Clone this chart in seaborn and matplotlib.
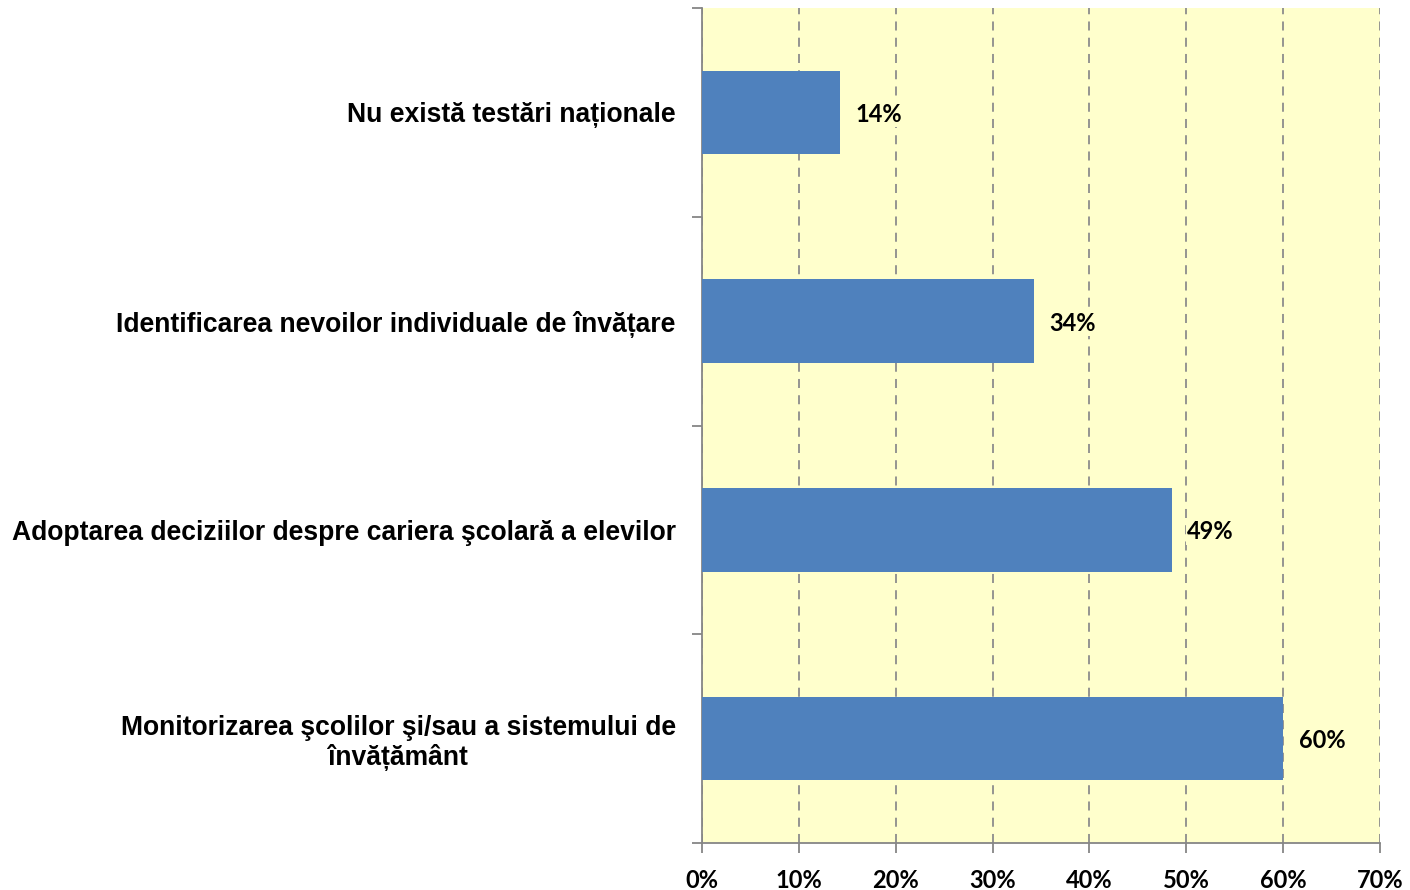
import pandas as pd
import matplotlib.pyplot as plt
import seaborn as sns

categories = [
    'Nu există testări naționale',
    'Identificarea nevoilor individuale de învățare',
    'Adoptarea deciziilor despre cariera şcolară a elevilor',
    'Monitorizarea şcolilor şi/sau a sistemului de\nînvățământ',
]
values = [14.2, 34.3, 48.5, 60.0]
value_labels = ['14%', '34%', '49%', '60%']
xticks = [0, 10, 20, 30, 40, 50, 60, 70]

data = pd.DataFrame({'category': categories, 'value': values})

sns.set_style('white')
plt.rcParams['font.family'] = ['Liberation Sans', 'DejaVu Sans']
plt.rcParams['text.color'] = 'black'
plt.rcParams['xtick.labelcolor'] = 'black'
plt.rcParams['ytick.labelcolor'] = 'black'

fig = plt.figure(figsize=(14.1, 8.9), dpi=100)
ax = fig.add_axes([0.4979, 0.0528, 0.4808, 0.9382])
ax.set_facecolor('#FFFFCC')

sns.barplot(ax=ax, data=data, y='category', x='value', orient='h',
            color='#4F81BD', saturation=1, width=0.4, linewidth=0, zorder=3)

ax.set_xlim(0, 70)
ax.set_ylim(3.5, -0.5)
ax.set_xticks(xticks)
ax.set_xticklabels([f'{t}%' for t in xticks], fontfamily='Lato',
                   fontweight='bold', fontsize=17)
ax.xaxis.grid(True, linestyle=(0, (5, 4)), color='#8C8C8C', linewidth=1.3, zorder=1)
ax.yaxis.grid(False)

# category labels beside bars, tick marks at band boundaries
ax.set_yticks(range(len(categories)))
ax.set_yticklabels(categories, fontweight='bold', fontsize=19.1, ha='right',
                   multialignment='center', linespacing=1.15)
ax.tick_params(axis='y', which='major', left=True, length=0, pad=19)
ax.set_yticks([-0.5, 0.5, 1.5, 2.5, 3.5], minor=True)
ax.tick_params(axis='y', which='minor', left=True, length=7, color='#868686', width=1.3)
ax.tick_params(axis='x', bottom=True, length=7, color='#868686', width=1.3, pad=12)

for s in ['top', 'right']:
    ax.spines[s].set_visible(False)
for s in ['left', 'bottom']:
    ax.spines[s].set_color('#868686')
    ax.spines[s].set_linewidth(1.3)

for i, (v, lab) in enumerate(zip(values, value_labels)):
    ax.text(v + 1.6, i + 0.01, lab, va='center', ha='left', fontfamily='Lato',
            fontweight='bold', fontsize=17, zorder=4,
            bbox=dict(facecolor='#FFFFCC', edgecolor='none', pad=1))

ax.set_xlabel('')
ax.set_ylabel('')

fig.savefig('out.png', dpi=100)
